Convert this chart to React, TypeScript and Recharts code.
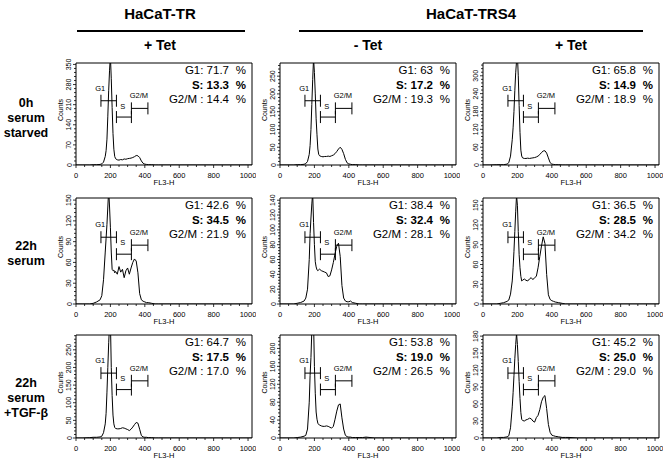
import React from 'react';
import { LineChart, Line, XAxis, YAxis, ReferenceArea, ReferenceLine, ReferenceDot } from 'recharts';

const FONT = '"Liberation Sans", Arial, Helvetica, sans-serif';

// FL3-H channel for every histogram point
const CHANNELS = [
  0, 40, 80, 100, 120, 140, 150, 160, 170, 175,
  180, 185, 190, 195, 200, 205, 210, 215, 220, 225,
  230, 240, 250, 260, 270, 280, 290, 300, 310, 320,
  330, 340, 350, 360, 370, 380, 390, 400, 410, 420,
  440, 460, 480, 500, 550, 600, 700, 800, 900, 1000, 1023,
];

// counts per channel, one array per panel
const TR_TET_0H = [
  0, 0, 0, 1, 1, 2, 4, 10, 30, 50,
  90, 170, 260, 330, 380, 300, 200, 110, 55, 30,
  22, 18, 17, 19, 18, 21, 20, 22, 23, 24,
  26, 29, 33, 32, 26, 14, 6, 3, 2, 1,
  1, 0, 0, 0, 0, 0, 0, 0, 0, 0, 0,
];
const TRS4_NOTET_0H = [
  0, 0, 0, 1, 1, 2, 4, 10, 30, 55,
  100, 170, 240, 300, 260, 200, 130, 85, 45, 30,
  26, 24, 23, 24, 24, 25, 24, 26, 28, 32,
  38, 45, 50, 44, 32, 16, 6, 3, 2, 1,
  1, 0, 0, 0, 0, 0, 0, 0, 0, 0, 0,
];
const TRS4_TET_0H = [
  0, 0, 1, 1, 1, 3, 8, 30, 85, 125,
  180, 250, 310, 350, 370, 300, 200, 110, 50, 30,
  24, 22, 22, 23, 22, 23, 24, 25, 27, 30,
  35, 42, 47, 48, 40, 24, 8, 3, 2, 1,
  1, 0, 0, 0, 0, 0, 0, 0, 0, 0, 0,
];
const TR_TET_22H = [
  0, 0, 0, 1, 3, 6, 12, 35, 75, 95,
  115, 140, 165, 140, 110, 75, 50, 48, 49, 45,
  47, 43, 54, 46, 50, 38, 48, 52, 43, 52,
  60, 65, 62, 45, 15, 6, 4, 3, 2, 2,
  1, 0, 0, 0, 0, 0, 0, 0, 0, 0, 0,
];
const TRS4_NOTET_22H = [
  0, 0, 0, 1, 2, 4, 8, 20, 60, 95,
  116, 135, 150, 110, 80, 57, 50, 46, 45, 46,
  47, 45, 44, 43, 42, 37, 38, 46, 56, 68,
  78, 82, 64, 25, 8, 4, 3, 3, 4, 2,
  1, 0, 0, 0, 0, 0, 0, 0, 0, 0, 0,
];
const TRS4_TET_22H = [
  0, 0, 0, 1, 2, 4, 6, 15, 35, 55,
  80, 110, 140, 165, 150, 110, 75, 55, 42, 35,
  36, 38, 36, 35, 38, 40, 37, 40, 42, 55,
  72, 88, 102, 92, 45, 14, 7, 5, 4, 3,
  2, 1, 0, 0, 0, 0, 0, 0, 0, 0, 0,
];
const TR_TET_TGF = [
  0, 0, 1, 2, 2, 3, 5, 15, 40, 70,
  130, 200, 270, 320, 330, 200, 120, 65, 40, 30,
  27, 26, 26, 27, 29, 28, 26, 24, 21, 25,
  31, 38, 44, 42, 25, 7, 3, 2, 2, 1,
  1, 0, 0, 0, 0, 0, 0, 0, 0, 0, 0,
];
const TRS4_NOTET_TGF = [
  0, 0, 0, 1, 2, 4, 6, 20, 80, 140,
  180, 240, 290, 260, 160, 100, 58, 42, 33, 30,
  29, 27, 26, 26, 27, 26, 24, 22, 26, 42,
  60, 74, 76, 45, 20, 6, 3, 2, 2, 1,
  1, 1, 1, 2, 0, 0, 0, 0, 0, 0, 0,
];
const TRS4_TET_TGF = [
  0, 0, 0, 1, 1, 2, 4, 18, 55, 80,
  110, 140, 165, 185, 165, 135, 100, 70, 45, 33,
  31, 30, 32, 33, 35, 34, 30, 28, 36, 40,
  50, 64, 72, 75, 52, 24, 10, 5, 4, 3,
  2, 1, 1, 1, 0, 0, 0, 0, 0, 0, 0,
];

const COUNTS = [
  TR_TET_0H, TRS4_NOTET_0H, TRS4_TET_0H,
  TR_TET_22H, TRS4_NOTET_22H, TRS4_TET_22H,
  TR_TET_TGF, TRS4_NOTET_TGF, TRS4_TET_TGF,
];

const Y_MAX = [355, 287, 343, 153, 143, 161, 292, 230, 182];
const Y_STEP = [70, 50, 60, 30, 20, 30, 50, 40, 30];

const G1_PCT = ['71.7', '63', '65.8', '42.6', '38.4', '36.5', '64.7', '53.8', '45.2'];
const S_PCT = ['13.3', '17.2', '14.9', '34.5', '32.4', '28.5', '17.5', '19.0', '25.0'];
const G2M_PCT = ['14.4', '19.3', '18.9', '21.9', '28.1', '34.2', '17.0', '26.5', '29.0'];

// gate markers (channels) and their height as share of the y range
const GATE_NAMES = ['G1', 'S', 'G2/M'];
const GATE_FROM = [145, 235, 322];
const GATE_TO = [235, 322, 418];
const GATE_LEVEL = [0.63, 0.47, 0.555];
const GATE_TEXT_X = [141, 272, 366];
const GATE_TEXT_LEVEL = [0.75, 0.58, 0.68];

const X_TICKS = [0, 50, 100, 150, 200, 250, 300, 350, 400, 450, 500, 550, 600, 650, 700, 750, 800, 850, 900, 950, 1000];

const CELL_LINES = ['HaCaT-TR', 'HaCaT-TRS4'];
const COLUMN_HEADS = ['+ Tet', '- Tet', '+ Tet'];
const ROW_LABELS = [['0h', 'serum', 'starved'], ['22h', 'serum'], ['22h', 'serum', '+TGF-β']];

// layout
const PLOT_LEFT = [76, 280, 483];
const PLOT_W = 176;
const PLOT_TOP = [63, 198, 335];
const PLOT_H = [102, 106, 103];
const ROW_LABEL_TOP = [103, 246, 383];
const PAD_TOP = 6;

const XTick = (p: any) => {
  const { x, y, payload } = p;
  const v = payload.value;
  const major = v % 200 === 0;
  return (
    <g>
      <line x1={x} x2={x} y1={y} y2={y + (major ? 3 : 2)} stroke="#000" strokeWidth={0.8} />
      {major && (
        <text x={x} y={y + 12.5} textAnchor="middle" fontSize={7.5} fontFamily={FONT} fill="#000">
          {v}
        </text>
      )}
    </g>
  );
};

const YTick = (p: any) => {
  const { x, y, payload, step } = p;
  const v = payload.value;
  const major = Math.abs(v / step - Math.round(v / step)) < 1e-6;
  const tx = x - 4.5;
  return (
    <g>
      <line x1={x - (major ? 3 : 2)} x2={x} y1={y} y2={y} stroke="#000" strokeWidth={0.8} />
      {major && (
        <text x={tx} y={y} transform={`rotate(-90 ${tx} ${y})`} textAnchor="middle" fontSize={7} fontFamily={FONT} fill="#000">
          {Math.round(v)}
        </text>
      )}
    </g>
  );
};

const AxisTitle = (p: any) => {
  const vb = p.viewBox || {};
  if (p.axis === 'x') {
    return (
      <text x={vb.x + vb.width / 2} y={vb.y + 20} textAnchor="middle" fontSize={7.5} fontFamily={FONT} fill="#000">
        FL3-H
      </text>
    );
  }
  const cx = vb.x + vb.width - 13;
  const cy = vb.y + vb.height / 2 - 4;
  return (
    <text x={cx} y={cy} transform={`rotate(-90 ${cx} ${cy})`} textAnchor="middle" fontSize={7} fontFamily={FONT} fill="#000">
      Counts
    </text>
  );
};

function Panel({ idx }: { idx: number }) {
  const row = Math.floor(idx / 3);
  const col = idx % 3;
  const yMax = Y_MAX[idx];
  const step = Y_STEP[idx];
  const h = PLOT_H[row];
  const data = CHANNELS.map((ch, i) => ({ ch, c: COUNTS[idx][i] }));

  const yTicks: number[] = [];
  for (let v = 0; v <= yMax + 1e-6; v += step / 5) yTicks.push(v);

  const half = (yMax * 6) / h; // end ticks of the gate markers, about 6px

  const lines = [
    { label: 'G1: ' + G1_PCT[idx], bold: false },
    { label: 'S: ' + S_PCT[idx], bold: true },
    { label: 'G2/M : ' + G2M_PCT[idx], bold: false },
  ];

  return (
    <div style={{ position: 'absolute', left: PLOT_LEFT[col] - 30, top: PLOT_TOP[row] - PAD_TOP }}>
      <LineChart
        width={30 + PLOT_W + 4}
        height={PAD_TOP + h + 22}
        data={data}
        margin={{ top: PAD_TOP, right: 4, bottom: 0, left: 0 }}
      >
        <XAxis
          type="number"
          dataKey="ch"
          domain={[0, 1023]}
          ticks={X_TICKS}
          interval={0}
          tick={<XTick />}
          tickLine={false}
          tickSize={0}
          tickMargin={0}
          axisLine={false}
          height={22}
          label={<AxisTitle axis="x" />}
        />
        <YAxis
          type="number"
          domain={[0, yMax]}
          allowDataOverflow
          ticks={yTicks}
          interval={0}
          tick={<YTick step={step} />}
          tickLine={false}
          tickSize={0}
          tickMargin={0}
          axisLine={false}
          width={30}
          label={<AxisTitle axis="y" />}
        />
        <ReferenceArea x1={0} x2={1023} y1={0} y2={yMax} fill="none" stroke="#000" strokeWidth={1} fillOpacity={0} />
        <Line dataKey="c" type="linear" stroke="#000" strokeWidth={1} dot={false} isAnimationActive={false} />
        {GATE_NAMES.map((name, g) => {
          const lv = GATE_LEVEL[g] * yMax;
          return (
            <React.Fragment key={name}>
              <ReferenceLine segment={[{ x: GATE_FROM[g], y: lv }, { x: GATE_TO[g], y: lv }]} stroke="#000" strokeWidth={1} />
              <ReferenceLine segment={[{ x: GATE_FROM[g], y: lv - half }, { x: GATE_FROM[g], y: lv + half }]} stroke="#000" strokeWidth={1} />
              <ReferenceLine segment={[{ x: GATE_TO[g], y: lv - half }, { x: GATE_TO[g], y: lv + half }]} stroke="#000" strokeWidth={1} />
              <ReferenceDot
                x={GATE_TEXT_X[g]}
                y={GATE_TEXT_LEVEL[g] * yMax}
                r={0}
                fill="none"
                stroke="none"
                label={{ value: name, position: 'center', fontSize: 7.5, fontFamily: FONT, fill: '#000' }}
              />
            </React.Fragment>
          );
        })}
      </LineChart>
      {lines.map((ln, i) => (
        <div
          key={i}
          style={{
            position: 'absolute',
            left: 30,
            width: PLOT_W - 6,
            top: PAD_TOP + i * 14.5,
            height: 14,
            lineHeight: '14px',
            fontSize: 11.5,
            fontFamily: FONT,
            fontWeight: ln.bold ? 700 : 400,
            display: 'flex',
            justifyContent: 'flex-end',
            whiteSpace: 'pre',
          }}
        >
          <span>{ln.label}</span>
          <span style={{ display: 'inline-block', width: 17, textAlign: 'right' }}>%</span>
        </div>
      ))}
    </div>
  );
}

export default function App() {
  const headStyle: React.CSSProperties = {
    position: 'absolute',
    fontFamily: FONT,
    fontWeight: 700,
    textAlign: 'center',
    whiteSpace: 'nowrap',
    transform: 'translate(-50%, -50%)',
  };
  return (
    <div style={{ position: 'absolute', left: 0, top: 0, width: 666, height: 461, background: '#fff', overflow: 'hidden' }}>
      <div style={{ ...headStyle, left: 160, top: 13, fontSize: 15 }}>{CELL_LINES[0]}</div>
      <div style={{ ...headStyle, left: 471, top: 13, fontSize: 15 }}>{CELL_LINES[1]}</div>
      <div style={{ position: 'absolute', left: 77, top: 30, width: 168, height: 1.5, background: '#000' }} />
      <div style={{ position: 'absolute', left: 299, top: 30, width: 344, height: 1.5, background: '#000' }} />
      {COLUMN_HEADS.map((t, c) => (
        <div key={c} style={{ ...headStyle, left: PLOT_LEFT[c] + PLOT_W / 2 - (c === 0 ? 4 : 0), top: 45, fontSize: 14 }}>
          {t}
        </div>
      ))}
      {ROW_LABELS.map((lines, r) =>
        lines.map((t, i) => (
          <div key={r + '-' + i} style={{ ...headStyle, left: 26, top: ROW_LABEL_TOP[r] + i * 15, fontSize: 12.5 }}>
            {t}
          </div>
        ))
      )}
      {COUNTS.map((_, i) => (
        <Panel key={i} idx={i} />
      ))}
    </div>
  );
}
